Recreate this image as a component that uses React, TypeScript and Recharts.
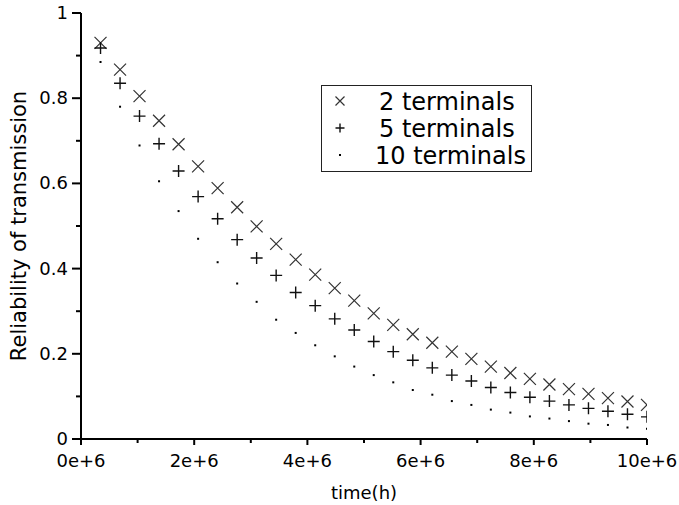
import { ScatterChart, Scatter, XAxis, YAxis, Legend } from "recharts";

// time in units of 1e6 hours
const TIMES = [
  0.345, 0.69, 1.034, 1.379, 1.724, 2.069, 2.414, 2.759, 3.103, 3.448, 3.793,
  4.138, 4.483, 4.828, 5.172, 5.517, 5.862, 6.207, 6.552, 6.897, 7.241, 7.586,
  7.931, 8.276, 8.621, 8.966, 9.31, 9.655, 10.0,
];

const TWO_TERMINALS = [
  0.93, 0.867, 0.805, 0.747, 0.692, 0.64, 0.589, 0.544, 0.499, 0.458, 0.421,
  0.386, 0.354, 0.325, 0.295, 0.268, 0.246, 0.226, 0.205, 0.188, 0.17, 0.155,
  0.141, 0.128, 0.117, 0.106, 0.096, 0.088, 0.08,
];

const FIVE_TERMINALS = [
  0.918, 0.835, 0.758, 0.693, 0.629, 0.569, 0.517, 0.468, 0.425, 0.384, 0.344,
  0.313, 0.282, 0.256, 0.229, 0.205, 0.185, 0.167, 0.15, 0.136, 0.121, 0.109,
  0.098, 0.089, 0.08, 0.072, 0.065, 0.058, 0.052,
];

const TEN_TERMINALS = [
  0.885, 0.78, 0.689, 0.605, 0.535, 0.47, 0.415, 0.365, 0.322, 0.28, 0.249,
  0.22, 0.194, 0.17, 0.15, 0.133, 0.115, 0.104, 0.089, 0.08, 0.069, 0.062,
  0.053, 0.048, 0.042, 0.036, 0.033, 0.027, 0.024,
];

const SERIES_NAMES = ["2 terminals", "5 terminals", "10 terminals"];

const X_TICKS = [0, 1, 2, 3, 4, 5, 6, 7, 8, 9, 10];
const X_MAJOR = [0, 2, 4, 6, 8, 10];
const X_LABELS = ["0e+6", "2e+6", "4e+6", "6e+6", "8e+6", "10e+6"];

const Y_TICKS = [0, 0.1, 0.2, 0.3, 0.4, 0.5, 0.6, 0.7, 0.8, 0.9, 1];
const Y_MAJOR = [0, 0.2, 0.4, 0.6, 0.8, 1];
const Y_LABELS = ["0", "0.2", "0.4", "0.6", "0.8", "1"];

const FONT = "'DejaVu Sans', Verdana, sans-serif";
const INK = "#000";

const toPoints = (ys: number[]) => TIMES.map((x, i) => ({ x, y: ys[i] }));

function Cross({ cx, cy, r = 6 }: { cx: number; cy: number; r?: number }) {
  return (
    <path
      d={`M${cx - r},${cy - r}L${cx + r},${cy + r}M${cx - r},${cy + r}L${cx + r},${cy - r}`}
      stroke="#333"
      strokeWidth={1.2}
      fill="none"
    />
  );
}

function Plus({ cx, cy, r = 6 }: { cx: number; cy: number; r?: number }) {
  return (
    <path
      d={`M${cx - r},${cy}L${cx + r},${cy}M${cx},${cy - r}L${cx},${cy + r}`}
      stroke="#111"
      strokeWidth={1.4}
      fill="none"
    />
  );
}

function Dot({ cx, cy }: { cx: number; cy: number }) {
  return <rect x={cx - 1} y={cy - 1} width={2} height={2} fill="#000" />;
}

// major ticks get a label and a longer mark, minor ticks only a short mark
function XTick(props: any) {
  const { x, y, payload } = props;
  const idx = X_MAJOR.indexOf(payload.value);
  const major = idx >= 0;
  return (
    <g>
      <line x1={x} x2={x} y1={y} y2={y + (major ? 6 : 4)} stroke={INK} strokeWidth={2} />
      {major && (
        <text x={x} y={y + 28} textAnchor="middle" fontSize={18} fontFamily={FONT} fill={INK}>
          {X_LABELS[idx]}
        </text>
      )}
    </g>
  );
}

function YTick(props: any) {
  const { x, y, payload } = props;
  const idx = Y_MAJOR.findIndex((v) => Math.abs(v - payload.value) < 1e-9);
  const major = idx >= 0;
  return (
    <g>
      <line x1={x - (major ? 9 : 5)} x2={x} y1={y} y2={y} stroke={INK} strokeWidth={2} />
      {major && (
        <text x={x - 13} y={y} dy={6} textAnchor="end" fontSize={18} fontFamily={FONT} fill={INK}>
          {Y_LABELS[idx]}
        </text>
      )}
    </g>
  );
}

function LegendBox() {
  const rows = [16, 43, 70];
  const textX = [58, 58, 54];
  return (
    <svg width={211} height={87} style={{ display: "block" }}>
      <rect x={0.5} y={0.5} width={210} height={86} fill="#fff" stroke="#222" strokeWidth={1} />
      <Cross cx={19} cy={rows[0]} r={4.5} />
      <Plus cx={19} cy={rows[1]} r={4.5} />
      <Dot cx={19} cy={rows[2]} />
      {SERIES_NAMES.map((name, i) => (
        <text key={name} x={textX[i]} y={rows[i] + 9} fontSize={24} fontFamily={FONT} fill={INK}>
          {name}
        </text>
      ))}
    </svg>
  );
}

export default function App() {
  return (
    <div style={{ width: 679, height: 505, background: "#fff", position: "relative" }}>
      <style>{`body{margin:0;background:#fff}`}</style>
      <ScatterChart width={679} height={505} margin={{ top: 13, right: 32, bottom: 0, left: 0 }}>
        <XAxis
          type="number"
          dataKey="x"
          domain={[0, 10]}
          allowDataOverflow
          ticks={X_TICKS}
          interval={0}
          tick={<XTick />}
          tickLine={false}
          tickSize={0}
          tickMargin={0}
          height={66}
          axisLine={{ stroke: INK, strokeWidth: 2 }}
          label={{ value: "time(h)", position: "insideBottom", offset: 6, fontSize: 18, fontFamily: FONT, fill: INK }}
        />
        <YAxis
          type="number"
          dataKey="y"
          domain={[0, 1]}
          ticks={Y_TICKS}
          interval={0}
          tick={<YTick />}
          tickLine={false}
          tickSize={0}
          tickMargin={0}
          width={81}
          axisLine={{ stroke: INK, strokeWidth: 2 }}
          label={{
            value: "Reliability of transmission",
            angle: -90,
            position: "insideLeft",
            offset: 19,
            fontSize: 21,
            fontFamily: FONT,
            fill: INK,
            style: { textAnchor: "middle" },
          }}
        />
        <Legend
          layout="vertical"
          align="center"
          verticalAlign="middle"
          content={() => <LegendBox />}
          wrapperStyle={{ left: 321, top: 85, width: 211, height: 87 }}
        />
        <Scatter
          name={SERIES_NAMES[0]}
          data={toPoints(TWO_TERMINALS)}
          isAnimationActive={false}
          shape={(p: any) => <Cross cx={p.cx} cy={p.cy} />}
        />
        <Scatter
          name={SERIES_NAMES[1]}
          data={toPoints(FIVE_TERMINALS)}
          isAnimationActive={false}
          shape={(p: any) => <Plus cx={p.cx} cy={p.cy} />}
        />
        <Scatter
          name={SERIES_NAMES[2]}
          data={toPoints(TEN_TERMINALS)}
          isAnimationActive={false}
          shape={(p: any) => <Dot cx={p.cx} cy={p.cy} />}
        />
      </ScatterChart>
    </div>
  );
}
